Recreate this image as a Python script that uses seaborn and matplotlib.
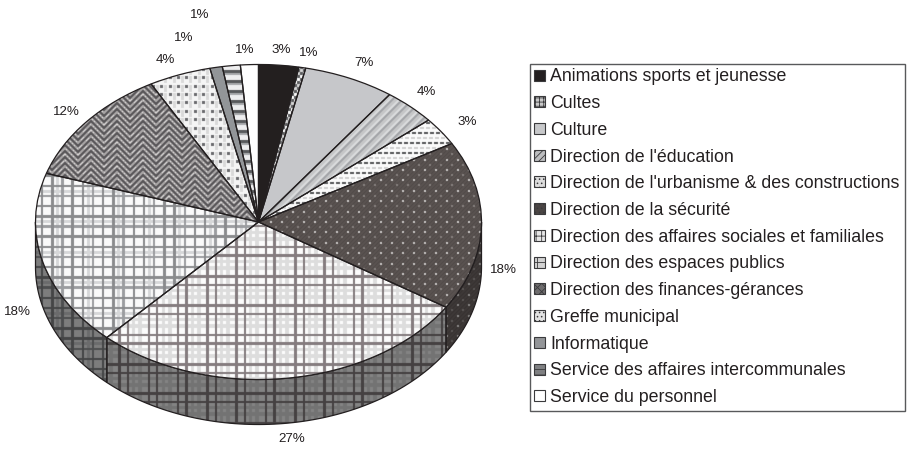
import numpy as np
import matplotlib
matplotlib.use("Agg")
import matplotlib.pyplot as plt
from matplotlib.patches import Patch, Polygon
import seaborn as sns

# ---- data -----------------------------------------------------------------
categories = ["Animations sports et jeunesse", "Cultes", "Culture",
              "Direction de l'éducation",
              "Direction de l'urbanisme & des constructions",
              "Direction de la sécurité",
              "Direction des affaires sociales et familiales",
              "Direction des espaces publics",
              "Direction des finances-gérances", "Greffe municipal",
              "Informatique", "Service des affaires intercommunales",
              "Service du personnel"]
shares = [2.9, 0.5, 6.6, 3.8, 2.9, 17.4, 27.8, 18.1, 12.0, 4.5, 0.9, 1.3, 1.3]
share_labels = ["3%", "1%", "7%", "4%", "3%", "18%", "27%", "18%", "12%",
                "4%", "1%", "1%", "1%"]

# ---- layout (pixels in the 907x451 picture) --------------------------------
W, H = 907, 451
CX, CY, RX, RY, DEPTH = 258.5, 222.0, 223.0, 157.5, 45.0
label_px = [(281, 50), (309, 53), (364, 63), (426, 92), (467, 122), (503, 270),
            (292, 439), (17, 312), (66, 112), (165, 60), (184, 38), (200, 15),
            (245, 50)]
INK = "#231f20"

sns.set_theme(style="white")
plt.rcParams["font.family"] = ["Liberation Sans", "DejaVu Sans"]
plt.rcParams["hatch.linewidth"] = 0.6

# ---- fill textures ---------------------------------------------------------
xx, yy = np.meshgrid(np.arange(W), np.arange(H))


def rgb(c):
    return np.array(matplotlib.colors.to_rgb(c))


def paint(base, *layers):
    img = np.ones((H, W, 3)) * rgb(base)
    for mask, col in layers:
        img[mask] = rgb(col)
    soft = 0.6 * img
    for ax_, s in ((0, 1), (0, -1), (1, 1), (1, -1)):
        soft = soft + 0.1 * np.roll(img, s, axis=ax_)
    return soft


def plaid_soc():
    px = (xx - 235) % 29.3
    py = (yy - 304) % 29.3
    darkx = (px < 2.4) | ((px >= 8.5) & (px < 10.9))
    darky = (py < 2.4) | ((py >= 8.5) & (py < 10.9))
    lightx = ((px >= 14) & (px < 17)) | ((px >= 20) & (px < 24))
    lighty = ((py >= 14) & (py < 17)) | ((py >= 20) & (py < 24))
    return paint("#fcfcfc", (lightx | lighty, "#dedede"), (darkx | darky, "#857d7f"))


def plaid_esp():
    px = (xx - 71) % 10.2
    py = (yy - 235) % 10.2
    cx = ((xx - 71) // 10.2) % 3
    cy = ((yy - 235) // 10.2) % 3
    darkx = (px < 2.4) & (cx != 2)
    darky = (py < 2.4) & (cy != 2)
    midx = (px < 2.4) & (cx == 2)
    midy = (py < 2.4) & (cy == 2)
    blurx = (px >= 5) & (px < 8) & (cx == 1)
    blury = (py >= 5) & (py < 8) & (cy == 1)
    return paint("#fbfbfb", (blurx | blury, "#d6d7d9"), (midx | midy, "#9c9da0"),
                 (darkx | darky, "#8a8b8e"))


def herringbone():
    block = (xx // 13) % 2
    s = np.where(block == 0, 1, -1)
    v = (yy + s * (xx % 13)) % 6
    spots = (v == 4) & ((xx + 2 * yy) % 7 < 3)
    return paint("#a8a5a5", (v < 3, "#5a575a"), (spots, "#e0dede"))


def dots():
    px, py = xx % 8.4, yy % 8.4
    halo = ((px >= 4) & (px < 7)) & (py < 7)
    return paint("#f6f6f6", (halo, "#dadada"), ((px < 3) & (py < 3), "#6a6b6e"))


def dashes():
    row = (yy - 112) % 10
    return paint("#fbfbfb",
                 ((row >= 5) & (row < 7) & ((xx + 3 * (yy // 10)) % 6 < 4), "#cfcfcf"),
                 ((row < 2) & ((xx + 2 * (yy // 10)) % 6 < 4), "#555658"))


def studded():
    px, py = (xx - 6) % 11, (yy - 2) % 10.4
    qx, qy = (xx) % 11, (yy - 7) % 10.4
    weave = (xx + yy) % 4 == 0
    return paint("#5a5351", (weave, "#4e4846"), ((qx < 2) & (qy < 2), "#857f7d"),
                 ((px < 2) & (py < 2), "#c8c5c4"))


textures = [
    paint(INK),
    paint("#d4d4d4", ((xx // 3 + yy // 3) % 2 == 0, "#5c5d5f"),
          ((xx // 3 + yy // 3) % 4 == 1, "#fbfbfb")),
    paint("#c7c8ca"),
    paint("#c5c6c8", ((xx + yy) % 10 < 3, "#a4a6a9"), ((xx + yy) % 10 >= 7, "#dadbdc")),
    dashes(),
    studded(),
    plaid_soc(),
    plaid_esp(),
    herringbone(),
    dots(),
    paint("#939598"),
    paint("#eeeeef", ((yy % 10) < 3, "#58595b"), ((yy % 10 >= 3) & (yy % 10 < 5), "#a7a9ac")),
    paint("#ffffff"),
]
wall_shade = [0.5, 0.5, 0.5, 0.5, 0.5, 0.68, 0.52, 0.5, 0.5, 0.5, 0.5, 0.5, 0.5]

# ---- figure ----------------------------------------------------------------
fig = plt.figure(figsize=(W / 100, H / 100), dpi=100)
ax = fig.add_axes([0, 0, 1, 1])
xlim = (-CX / RX, (W - CX) / RX)
ylim = ((CY - H) / RY, CY / RY)

wedges, _ = ax.pie(shares, startangle=90, counterclock=False, radius=1,
                   colors=["none"] * len(shares), normalize=True,
                   wedgeprops=dict(edgecolor=INK, linewidth=0.9, zorder=5))
ax.set_aspect("auto")
extent = (xlim[0], xlim[1], ylim[0], ylim[1])


def texture_into(tile, clip, z):
    im = ax.imshow(tile, extent=extent, origin="upper", aspect="auto",
                   interpolation="nearest", zorder=z)
    im.set_clip_path(clip)


# side wall of the disc: only the part turned towards the viewer
edges = np.cumsum([0] + shares) / np.sum(shares) * 360.0
depth = DEPTH / RY
for i in range(len(shares)):
    a, b = max(edges[i], 90.0), min(edges[i + 1], 270.0)
    if b <= a:
        continue
    t = np.radians(np.linspace(a, b, 80))
    x, y = np.sin(t), np.cos(t)
    pts = np.column_stack([np.r_[x, x[::-1]], np.r_[y, y[::-1] - depth]])
    wall = Polygon(pts, closed=True, facecolor="none", edgecolor=INK,
                   linewidth=0.9, zorder=3)
    ax.add_patch(wall)
    texture_into(textures[i] * wall_shade[i], wall, 2)

for wedge, tile in zip(wedges, textures):
    texture_into(tile, wedge, 4)

ax.set_xlim(*xlim)
ax.set_ylim(*ylim)
ax.set_axis_off()
sns.despine(ax=ax, left=True, bottom=True)

for text, (px, py) in zip(share_labels, label_px):
    fig.text(px / W, 1 - py / H, text, ha="center", va="center",
             fontsize=9.6, color=INK)

# ---- legend ----------------------------------------------------------------
swatch_face = ["#231f20", "#c9c9c9", "#c7c8ca", "#bcbdbf", "#dcdcdc", "#4a4544",
               "#e6e6e6", "#d2d2d2", "#6e6c6d", "#e2e2e2", "#939598", "#7f8082",
               "#ffffff"]
swatch_hatch = [None, "++++", None, "/////", "....", "....", "+++", "++", "xxxx",
                "....", None, "---", None]
handles = [Patch(facecolor=f, edgecolor="#3a3a3c", hatch=h, linewidth=0.8)
           for f, h in zip(swatch_face, swatch_hatch)]
leg = fig.legend(handles, categories, loc="upper left",
                 bbox_to_anchor=(529.5 / W, 1 - 63.5 / H), borderaxespad=0,
                 fontsize=12.75, labelcolor=INK, frameon=True, fancybox=False,
                 edgecolor="#58595b", framealpha=1, handlelength=0.58,
                 handleheight=0.58, handletextpad=0.33, labelspacing=0.55,
                 borderpad=0.27)
leg.get_frame().set_linewidth(1.0)

fig.savefig("out.png", dpi=100)
